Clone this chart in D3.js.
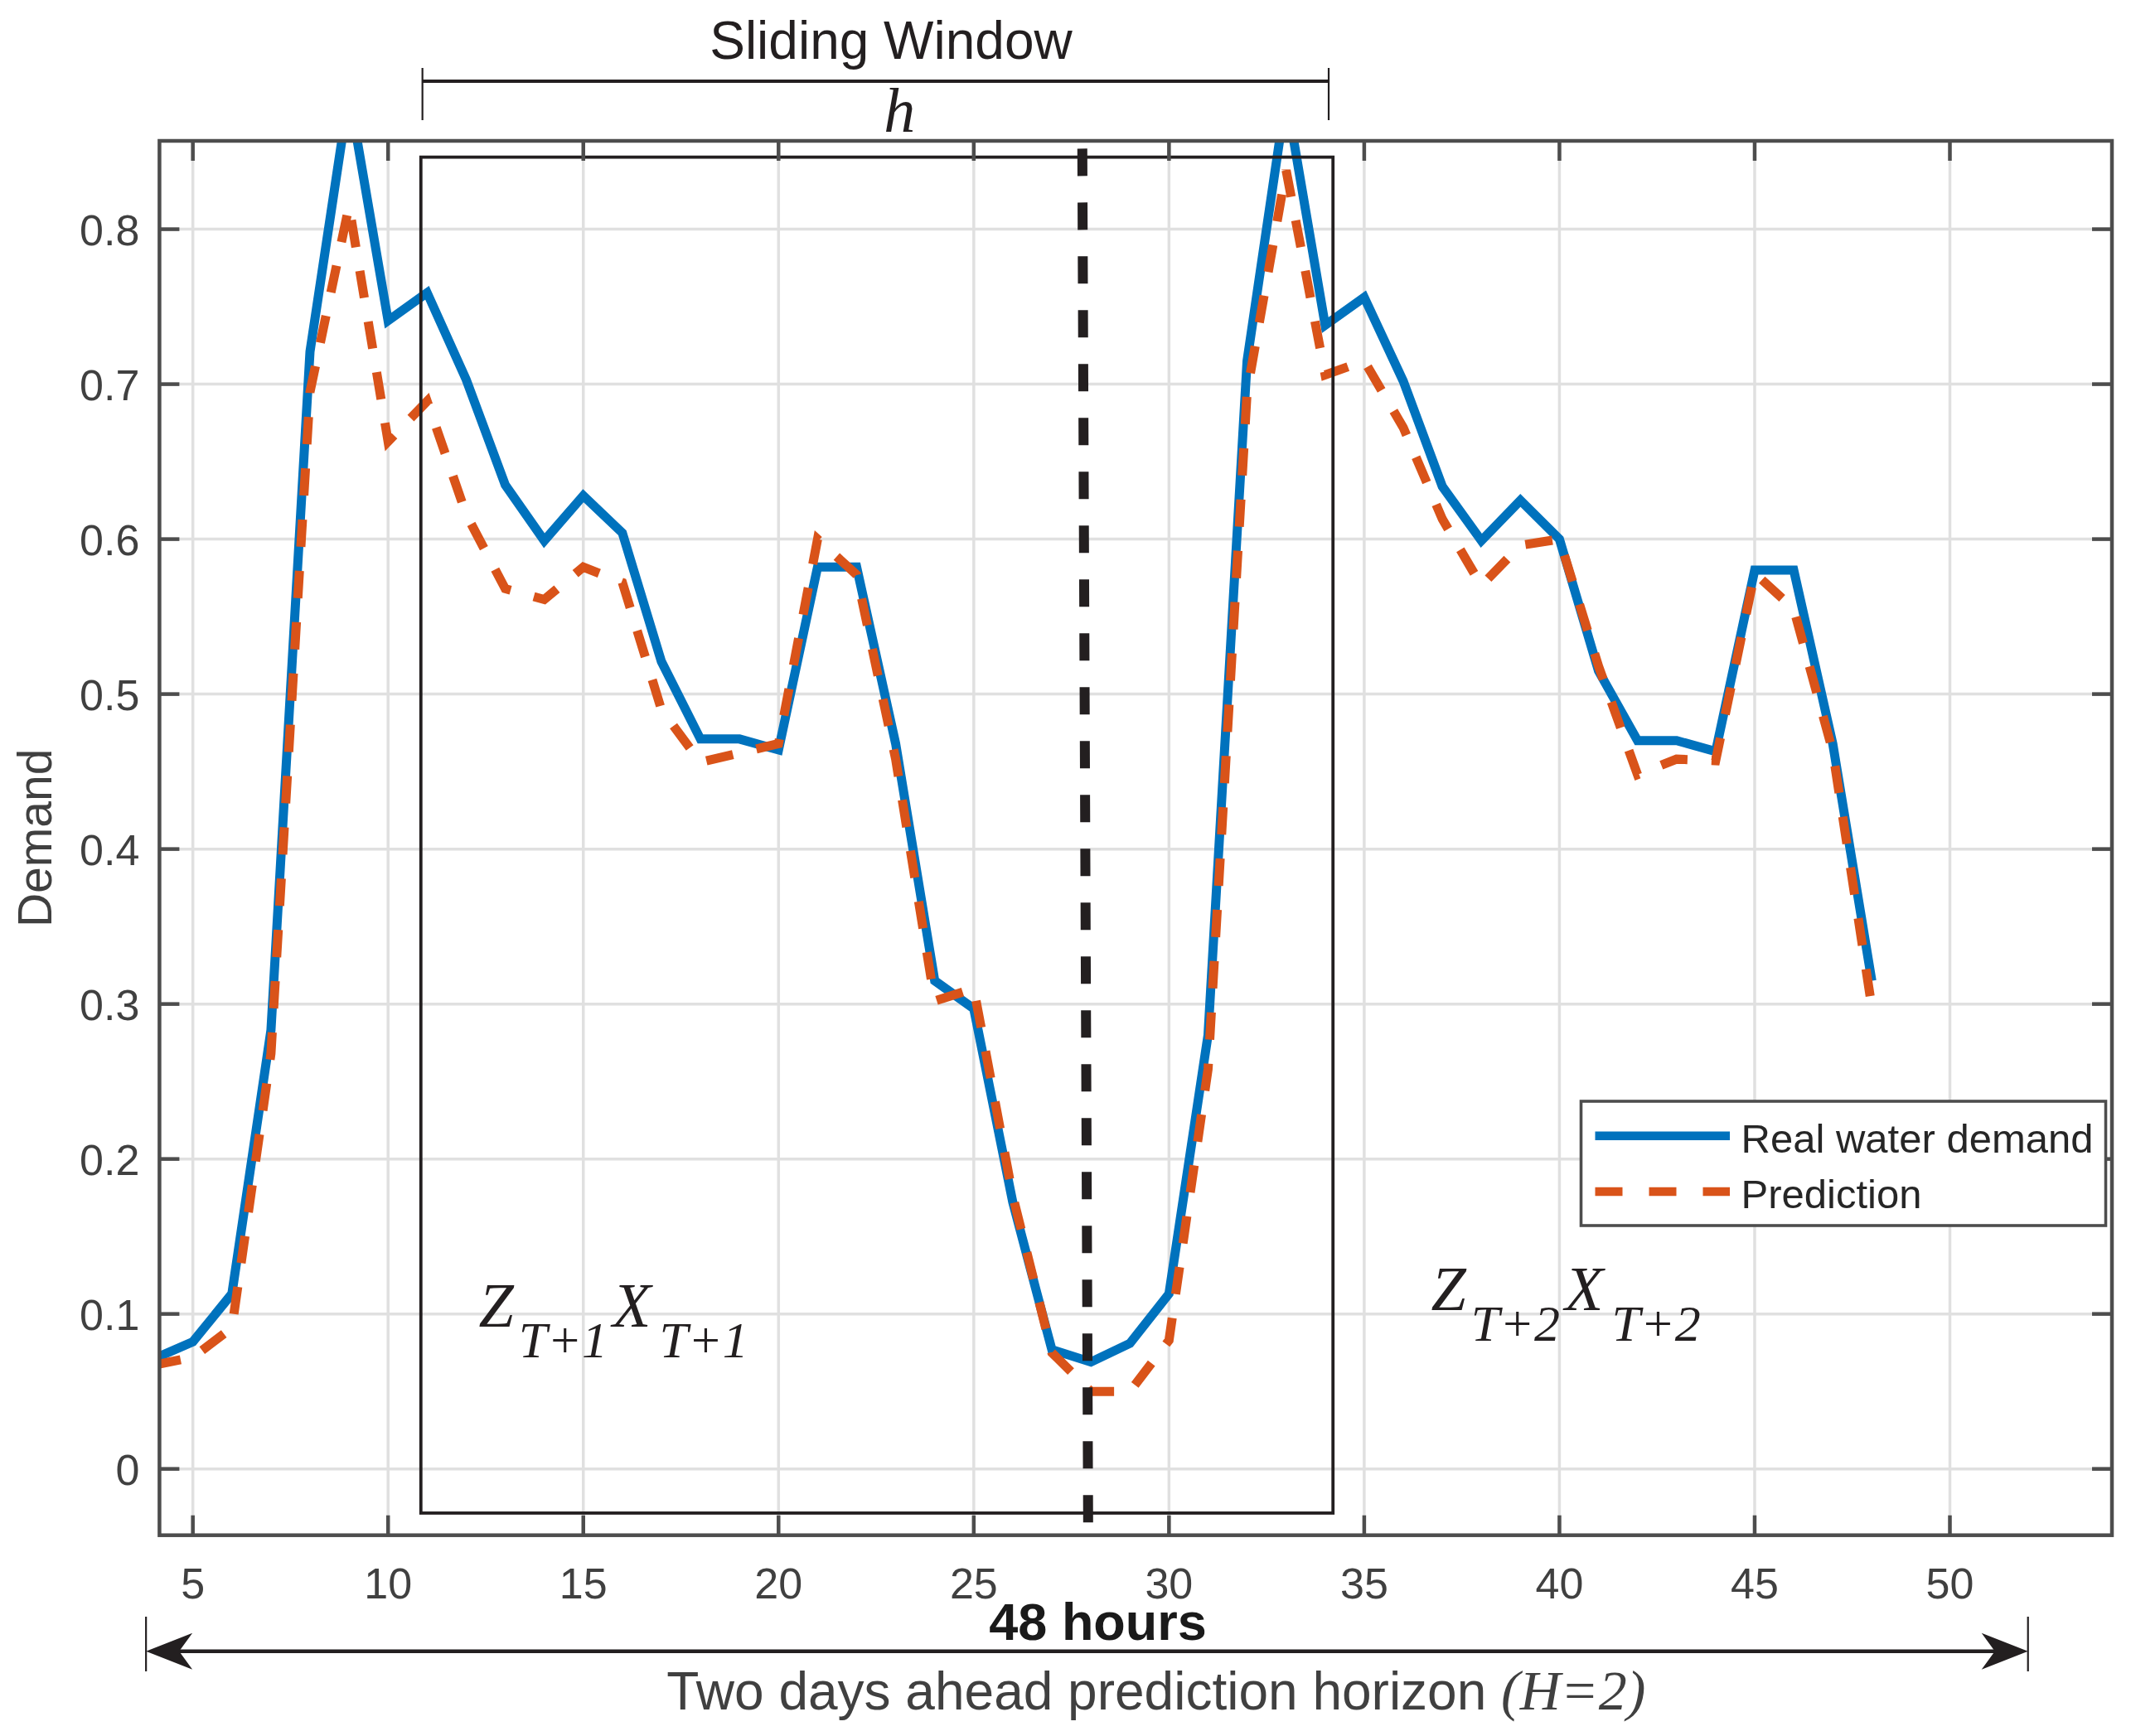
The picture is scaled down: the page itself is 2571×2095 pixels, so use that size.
<!DOCTYPE html>
<html>
<head>
<meta charset="utf-8">
<script src="https://cdn.jsdelivr.net/npm/d3@7"></script>
<style>
  body { margin: 0; background: #fff; }
  svg { display: block; }
</style>
</head>
<body>
<svg id="chart"></svg>
<script>
// hours shown on the x axis
const hours = [4, 5, 6, 7, 8, 9, 10, 11, 12, 13, 14, 15, 16, 17, 18, 19, 20, 21, 22, 23, 24, 25, 26,
    27, 28, 29, 30, 31, 32, 33, 34, 35, 36, 37, 38, 39, 40, 41, 42, 43, 44, 45, 46, 47, 48];

// measured demand
const realDemand = [0.071, 0.082, 0.113, 0.283, 0.721, 0.888, 0.741, 0.759, 0.703, 0.635, 0.599,
    0.628, 0.604, 0.521, 0.471, 0.471, 0.464, 0.582, 0.582, 0.468, 0.315, 0.297, 0.172, 0.077,
    0.069, 0.081, 0.113, 0.280, 0.715, 0.886, 0.738, 0.756, 0.702, 0.634, 0.599, 0.625, 0.600,
    0.515, 0.470, 0.470, 0.463, 0.580, 0.580, 0.468, 0.315];

// model output
const prediction = [0.067, 0.072, 0.091, 0.268, 0.695, 0.815, 0.663, 0.689, 0.616, 0.568, 0.561,
    0.582, 0.572, 0.490, 0.456, 0.462, 0.468, 0.600, 0.577, 0.458, 0.302, 0.310, 0.176, 0.075,
    0.050, 0.050, 0.083, 0.258, 0.695, 0.838, 0.706, 0.715, 0.672, 0.613, 0.570, 0.596, 0.600,
    0.518, 0.448, 0.458, 0.457, 0.578, 0.555, 0.463, 0.298];

const xTicks = [5, 10, 15, 20, 25, 30, 35, 40, 45, 50];
const yTicks = [0, 0.1, 0.2, 0.3, 0.4, 0.5, 0.6, 0.7, 0.8];
const seriesNames = ["Real water demand", "Prediction"];

const width = 2571, height = 2095;
const margin = { top: 170, right: 23, bottom: 242.3, left: 192.4 };

const sansFont = "'Liberation Sans', Arial, Helvetica, sans-serif";
const serifFont = "'Liberation Serif', 'Times New Roman', serif";
const axisColor = "#4d4d4d";
const blue = "#0072BD", orange = "#D95319", ink = "#231f20";

const svg = d3.select("#chart")
    .attr("width", width)
    .attr("height", height)
    .attr("viewBox", `0 0 ${width} ${height}`);

const x = d3.scaleLinear().domain([4.145, 54.15]).range([margin.left, width - margin.right]);
const y = d3.scaleLinear().domain([-0.0428, 0.857]).range([height - margin.bottom, margin.top]);

const x0 = x.range()[0], x1 = x.range()[1];
const y0 = y.range()[0], y1 = y.range()[1];

svg.append("defs").append("clipPath").attr("id", "plot-clip")
    .append("rect")
    .attr("x", x0).attr("y", y1)
    .attr("width", x1 - x0).attr("height", y0 - y1);

// grid
const grid = svg.append("g");
grid.selectAll(".gx").data(xTicks).join("line")
    .attr("x1", d => x(d)).attr("x2", d => x(d))
    .attr("y1", y1).attr("y2", y0)
    .attr("stroke", "#e0e0e0").attr("stroke-width", 3.5);
grid.selectAll(".gy").data(yTicks).join("line")
    .attr("x1", x0).attr("x2", x1)
    .attr("y1", d => y(d)).attr("y2", d => y(d))
    .attr("stroke", "#e0e0e0").attr("stroke-width", 3.5);

// data lines
const line = d3.line().x((d, i) => x(hours[i])).y(d => y(d));
const plot = svg.append("g").attr("clip-path", "url(#plot-clip)");

plot.append("path")
    .datum(realDemand)
    .attr("d", line)
    .attr("fill", "none")
    .attr("stroke", blue)
    .attr("stroke-width", 11)
    .attr("stroke-linejoin", "miter");

plot.append("path")
    .datum(prediction)
    .attr("d", line)
    .attr("fill", "none")
    .attr("stroke", orange)
    .attr("stroke-width", 11)
    .attr("stroke-dasharray", "33,29");

// sliding window box
svg.append("rect")
    .attr("x", x(10.84)).attr("y", y(0.8465))
    .attr("width", x(34.2) - x(10.84))
    .attr("height", y(-0.0285) - y(0.8465))
    .attr("fill", "none")
    .attr("stroke", ink)
    .attr("stroke-width", 3.8);

// present-time marker
svg.append("line")
    .attr("x1", x(27.78)).attr("y1", y(0.852))
    .attr("x2", x(27.93)).attr("y2", y(-0.037))
    .attr("stroke", ink)
    .attr("stroke-width", 12)
    .attr("stroke-dasharray", "33,32");

// axes box, ticks
const axes = svg.append("g");
axes.append("rect")
    .attr("x", x0).attr("y", y1)
    .attr("width", x1 - x0).attr("height", y0 - y1)
    .attr("fill", "none").attr("stroke", axisColor).attr("stroke-width", 4.5);

const tickLen = 24;
xTicks.forEach(t => {
    axes.append("line").attr("x1", x(t)).attr("x2", x(t)).attr("y1", y0).attr("y2", y0 - tickLen)
        .attr("stroke", axisColor).attr("stroke-width", 4.5);
    axes.append("line").attr("x1", x(t)).attr("x2", x(t)).attr("y1", y1).attr("y2", y1 + tickLen)
        .attr("stroke", axisColor).attr("stroke-width", 4.5);
});
yTicks.forEach(t => {
    axes.append("line").attr("x1", x0).attr("x2", x0 + tickLen).attr("y1", y(t)).attr("y2", y(t))
        .attr("stroke", axisColor).attr("stroke-width", 4.5);
    axes.append("line").attr("x1", x1).attr("x2", x1 - tickLen).attr("y1", y(t)).attr("y2", y(t))
        .attr("stroke", axisColor).attr("stroke-width", 4.5);
});

axes.selectAll(".xl").data(xTicks).join("text")
    .attr("x", d => x(d)).attr("y", 1929)
    .attr("text-anchor", "middle")
    .attr("font-family", sansFont).attr("font-size", 52).attr("fill", "#404040")
    .text(d => d);

axes.selectAll(".yl").data(yTicks).join("text")
    .attr("x", x0 - 24).attr("y", d => y(d) + 19)
    .attr("text-anchor", "end")
    .attr("font-family", sansFont).attr("font-size", 52).attr("fill", "#404040")
    .text(d => d3.format("~g")(d));

svg.append("text")
    .attr("transform", `translate(62,${(y0 + y1) / 2}) rotate(-90)`)
    .attr("text-anchor", "middle")
    .attr("font-family", sansFont).attr("font-size", 57).attr("fill", "#404040")
    .text("Demand");

// sliding window bracket
const bL = x(10.88), bR = x(34.09), bY = 98;
svg.append("line").attr("x1", bL).attr("x2", bR).attr("y1", bY).attr("y2", bY)
    .attr("stroke", ink).attr("stroke-width", 4);
[bL, bR].forEach(bx => svg.append("line")
    .attr("x1", bx).attr("x2", bx).attr("y1", 82).attr("y2", 145)
    .attr("stroke", ink).attr("stroke-width", 2.2));

svg.append("text")
    .attr("x", x(22.88)).attr("y", 71)
    .attr("text-anchor", "middle")
    .attr("font-family", sansFont).attr("font-size", 64).attr("fill", ink)
    .text("Sliding Window");

svg.append("text")
    .attr("x", x(23.1)).attr("y", 159)
    .attr("text-anchor", "middle")
    .attr("font-family", serifFont).attr("font-style", "italic")
    .attr("font-size", 76).attr("fill", ink)
    .text("h");

// Z / X labels
function zxLabel(xv, yv, sub) {
    const t = svg.append("text")
        .attr("x", x(xv)).attr("y", y(yv))
        .attr("font-family", serifFont).attr("font-style", "italic")
        .attr("fill", ink);
    t.append("tspan").attr("font-size", 76).text("Z");
    t.append("tspan").attr("font-size", 62).attr("dx", 6).attr("dy", 37).text("T+" + sub);
    t.append("tspan").attr("font-size", 76).attr("dx", 6).attr("dy", -37).text("X");
    t.append("tspan").attr("font-size", 62).attr("dx", 10).attr("dy", 37).text("T+" + sub);
}
zxLabel(12.32, 0.092, "1");
zxLabel(36.71, 0.1027, "2");

// legend
const lg = svg.append("g");
lg.append("rect")
    .attr("x", 1907.5).attr("y", 1329)
    .attr("width", 633).attr("height", 150)
    .attr("fill", "#fff").attr("stroke", axisColor).attr("stroke-width", 3.6);
const legendRows = [
    { name: seriesNames[0], color: blue, dash: null, y: 1370.7 },
    { name: seriesNames[1], color: orange, dash: "33,32", y: 1438 }
];
legendRows.forEach(r => {
    lg.append("line")
        .attr("x1", 1924.5).attr("x2", 2087).attr("y1", r.y).attr("y2", r.y)
        .attr("stroke", r.color).attr("stroke-width", 10.5)
        .attr("stroke-dasharray", r.dash);
    lg.append("text")
        .attr("x", 2100.6).attr("y", r.y + 20)
        .attr("font-family", sansFont).attr("font-size", 49).attr("fill", "#262626")
        .text(r.name);
});

// 48 hour horizon arrow
const aL = x(3.80), aR = x(52.0), aY = 1992.7;
svg.append("line").attr("x1", aL + 30).attr("x2", aR - 30).attr("y1", aY).attr("y2", aY)
    .attr("stroke", ink).attr("stroke-width", 4.5);
[aL, aR].forEach(ax => svg.append("line")
    .attr("x1", ax).attr("x2", ax).attr("y1", 1951).attr("y2", 2017)
    .attr("stroke", ink).attr("stroke-width", 2.2));
const head = (tip, dir) => {
    const p = d3.path();
    p.moveTo(tip, aY);
    p.lineTo(tip + dir * 56, aY - 22);
    p.lineTo(tip + dir * 40, aY);
    p.lineTo(tip + dir * 56, aY + 22);
    p.closePath();
    return p.toString();
};
svg.append("path").attr("d", head(aL, 1)).attr("fill", ink);
svg.append("path").attr("d", head(aR, -1)).attr("fill", ink);

svg.append("text")
    .attr("x", x(28.18)).attr("y", 1979)
    .attr("text-anchor", "middle")
    .attr("font-family", sansFont).attr("font-weight", "bold")
    .attr("font-size", 63).attr("fill", "#1a1a1a")
    .text("48 hours");

const xl = svg.append("text")
    .attr("x", x(29.67)).attr("y", 2063)
    .attr("text-anchor", "middle")
    .attr("font-family", sansFont).attr("font-size", 64).attr("fill", "#404040");
xl.append("tspan").text("Two days ahead prediction horizon ");
xl.append("tspan")
    .attr("font-family", serifFont).attr("font-style", "italic").attr("font-size", 68)
    .text("(H=2)");
</script>
</body>
</html>
